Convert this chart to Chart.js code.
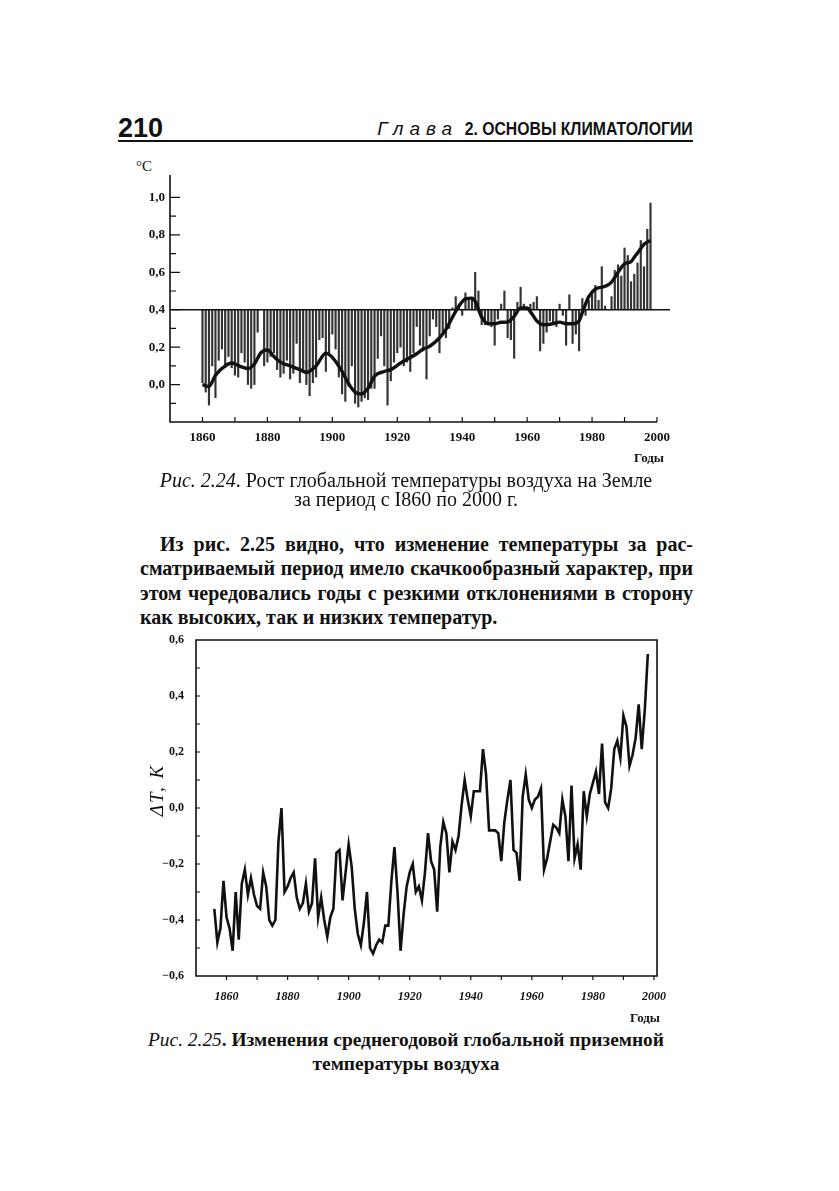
<!DOCTYPE html>
<html lang="ru">
<head>
<meta charset="utf-8">
<title>Рис. 2.24 и 2.25</title>
<script src="https://cdn.jsdelivr.net/npm/chart.js@4.4.1/dist/chart.umd.min.js"></script>
<style>
  html, body { margin: 0; padding: 0; background: #fff; }
  body { width: 839px; height: 1191px; position: relative; overflow: hidden; color: #111; font-family: "Liberation Serif", serif; }
  .abs { position: absolute; white-space: nowrap; }
  canvas { position: absolute; }
  .hdr-num { left: 118px; top: 113px; font: bold 27px "Liberation Sans", Arial, sans-serif; }
  .hdr-ttl { right: 146px; top: 118px; font: bold 19px "Liberation Sans", sans-serif; }
  .hdr-ttl i { font-weight: normal; letter-spacing: 6px; margin-right: 2px; }
  .hdr-ttl span { display: inline-block; transform: scaleX(0.83); transform-origin: right center; margin-left: -47px; }
  .rule { left: 118px; top: 140px; width: 575px; height: 2px; background: #111; }
  .cap { left: 0; width: 812px; text-align: center; font-size: 20px; line-height: 22px; }
  .cap i { font-style: italic; }
  .cap2 { font-size: 19.4px; font-weight: bold; }
  .para { left: 140px; width: 553px; font: bold 20px "Liberation Serif", serif; text-align: justify; text-align-last: justify; }
  .small { font: bold 13px "Liberation Serif", serif; }
</style>
</head>
<body>

<div class="abs hdr-num">210</div>
<div class="abs hdr-ttl"><i>Глава</i> <span>2. ОСНОВЫ КЛИМАТОЛОГИИ</span></div>
<div class="abs rule"></div>

<div class="abs" style="left:136px;top:158px;font-size:15px;">°C</div>
<canvas id="fig224" width="620" height="330" style="left:90px;top:150px;"></canvas>
<div class="abs small" style="left:634px;top:450px;">Годы</div>

<div class="abs cap" style="top:469px;"><i>Рис. 2.24</i>. Рост глобальной температуры воздуха на Земле</div>
<div class="abs cap" style="top:488px;">за период с I860 по 2000 г.</div>

<div class="abs para" style="top:533px;left:160px;width:533px;">Из рис. 2.25 видно, что изменение температуры за рас-</div>
<div class="abs para" style="top:557px;">сматриваемый период имело скачкообразный характер, при</div>
<div class="abs para" style="top:582px;">этом чередовались годы с резкими отклонениями в сторону</div>
<div class="abs para" style="top:606px;text-align-last:left;">как высоких, так и низких температур.</div>

<canvas id="fig225" width="570" height="400" style="left:140px;top:620px;"></canvas>
<div class="abs" style="left:117px;top:779px;width:80px;text-align:center;font-style:italic;font-size:19px;letter-spacing:2px;transform:rotate(-90deg);">ΔT, K</div>
<div class="abs small" style="left:630px;top:1010px;">Годы</div>

<div class="abs cap cap2" style="top:1029px;"><i style="font-weight:normal">Рис. 2.25</i>. Изменения среднегодовой глобальной приземной</div>
<div class="abs cap cap2" style="top:1053px;">температуры воздуха</div>

<script>
// --- Рис. 2.24: annual bars around the 0.4 line + smoothed curve (1860-1998)
const barStartYear = 1860;
const baseline224 = 0.4;
const barValues = [
  0.01, -0.04, -0.11, 0.10, -0.07, 0.13, 0.19, 0.09, 0.15, 0.09,
  0.05, 0.04, 0.17, 0.12, 0.00, -0.02, 0.00, 0.28, 0.40, 0.10,
  0.12, 0.15, 0.17, 0.08, 0.04, 0.06, 0.13, 0.03, 0.06, 0.22,
  0.01, 0.08, 0.00, -0.06, 0.01, 0.04, 0.24, 0.25, 0.07, 0.17,
  0.27, 0.19, 0.04, -0.05, -0.09, -0.01, 0.10, -0.10, -0.12, -0.09,
  -0.07, -0.08, -0.02, -0.02, 0.14, 0.26, 0.10, -0.11, 0.02, 0.12,
  0.17, 0.20, 0.10, 0.12, 0.07, 0.17, 0.31, 0.21, 0.18, 0.03,
  0.26, 0.35, 0.31, 0.17, 0.28, 0.25, 0.30, 0.41, 0.47, 0.43,
  0.37, 0.49, 0.46, 0.46, 0.60, 0.50, 0.32, 0.32, 0.32, 0.31,
  0.21, 0.35, 0.43, 0.50, 0.25, 0.24, 0.14, 0.44, 0.52, 0.43,
  0.40, 0.43, 0.44, 0.47, 0.18, 0.22, 0.28, 0.34, 0.33, 0.31,
  0.43, 0.37, 0.21, 0.48, 0.22, 0.27, 0.18, 0.46, 0.37, 0.45,
  0.49, 0.53, 0.45, 0.63, 0.42, 0.40, 0.47, 0.61, 0.64, 0.58,
  0.73, 0.69, 0.55, 0.59, 0.65, 0.77, 0.63, 0.83, 0.97
];
const smoothYears = [1860, 1862, 1864, 1867, 1869, 1872, 1874, 1876, 1878, 1880,
  1882, 1884, 1887, 1890, 1892, 1895, 1898, 1900, 1903, 1905,
  1907, 1909, 1911, 1913, 1916, 1918, 1921, 1923, 1926, 1928,
  1930, 1933, 1935, 1937, 1939, 1941, 1943, 1944, 1946, 1948,
  1950, 1952, 1954, 1956, 1958, 1960, 1961, 1963, 1965, 1968,
  1970, 1972, 1974, 1976, 1977, 1979, 1981, 1984, 1986, 1988,
  1990, 1992, 1993, 1995, 1996, 1998];
const smoothValues = [0.00, -0.01, 0.05, 0.10, 0.115, 0.095, 0.085, 0.11, 0.17, 0.185,
  0.15, 0.12, 0.10, 0.08, 0.065, 0.10, 0.168, 0.145, 0.07, 0.005,
  -0.04, -0.05, -0.02, 0.045, 0.07, 0.08, 0.115, 0.135, 0.165, 0.19,
  0.205, 0.25, 0.295, 0.36, 0.42, 0.458, 0.462, 0.445, 0.36, 0.325,
  0.325, 0.333, 0.334, 0.365, 0.41, 0.41, 0.39, 0.34, 0.32, 0.325,
  0.334, 0.325, 0.325, 0.34, 0.385, 0.47, 0.51, 0.525, 0.548, 0.60,
  0.645, 0.657, 0.68, 0.727, 0.75, 0.77];
const yTicks224 = [0.0, 0.2, 0.4, 0.6, 0.8, 1.0];
const xTickLabels = [1860, 1880, 1900, 1920, 1940, 1960, 1980, 2000];

// --- Рис. 2.25: annual global mean anomaly, 1856-1998
const lineStartYear = 1856;
const anomalyValues = [
  -0.36, -0.48, -0.43, -0.26,
  -0.39, -0.43, -0.51, -0.30, -0.47, -0.27, -0.22, -0.31, -0.25, -0.31,
  -0.35, -0.36, -0.23, -0.28, -0.40, -0.42, -0.40, -0.12, 0.00, -0.30,
  -0.28, -0.25, -0.23, -0.32, -0.36, -0.34, -0.27, -0.37, -0.34, -0.18,
  -0.39, -0.32, -0.40, -0.46, -0.39, -0.36, -0.16, -0.15, -0.33, -0.23,
  -0.13, -0.21, -0.36, -0.45, -0.49, -0.41, -0.30, -0.50, -0.52, -0.49,
  -0.47, -0.48, -0.42, -0.42, -0.26, -0.14, -0.30, -0.51, -0.38, -0.28,
  -0.23, -0.20, -0.30, -0.28, -0.33, -0.23, -0.09, -0.19, -0.22, -0.37,
  -0.14, -0.05, -0.09, -0.23, -0.12, -0.15, -0.10, 0.01, 0.10, 0.03,
  -0.03, 0.06, 0.06, 0.06, 0.21, 0.12, -0.08, -0.08, -0.08, -0.09,
  -0.19, -0.05, 0.03, 0.10, -0.15, -0.16, -0.26, 0.04, 0.12, 0.03,
  0.00, 0.03, 0.04, 0.07, -0.22, -0.18, -0.12, -0.06, -0.07, -0.09,
  0.03, -0.03, -0.19, 0.08, -0.18, -0.13, -0.22, 0.06, -0.03, 0.05,
  0.09, 0.13, 0.05, 0.23, 0.02, 0.00, 0.07, 0.21, 0.24, 0.18,
  0.33, 0.29, 0.15, 0.19, 0.25, 0.37, 0.21, 0.35, 0.55
];
const yTicks225 = [-0.6, -0.4, -0.2, 0.0, 0.2, 0.4, 0.6];

const serif = '"Liberation Serif", "Times New Roman", serif';
const ink = '#111';

function commaLabel(v) {
  const s = Math.abs(v).toFixed(1).replace('.', ',');
  return v < -0.001 ? '\u2212' + s : s;
}
function isIn(list, v) {
  return list.some(t => Math.abs(t - v) < 1e-6);
}

// axes drawn by hand: book style, ticks pointing into the plot
const bookAxes = {
  id: 'bookAxes',
  afterDatasetsDraw(chart, args, o) {
    const ctx = chart.ctx;
    const { left, right, top, bottom } = chart.chartArea;
    const xs = chart.scales.x, ys = chart.scales.y;
    ctx.save();
    ctx.strokeStyle = ink;
    ctx.lineWidth = o.axisWidth;
    ctx.beginPath();
    if (o.frame) {
      ctx.rect(left, top, right - left, bottom - top);
    } else {
      ctx.moveTo(left, top); ctx.lineTo(left, bottom); ctx.lineTo(right, bottom);
    }
    ctx.stroke();
    ctx.lineWidth = 1.2;
    ctx.beginPath();
    ys.ticks.forEach(t => {
      if (t.value < o.yFrom - 1e-6 || t.value > o.yTo + 1e-6) return;
      const py = ys.getPixelForValue(t.value);
      const len = Math.round(t.value * 10) % 2 === 0 ? o.yMajor : o.yMinor;
      ctx.moveTo(left, py); ctx.lineTo(left + len, py);
    });
    xs.ticks.forEach(t => {
      if (t.value < 1860) return;
      const px = xs.getPixelForValue(t.value);
      ctx.moveTo(px, bottom); ctx.lineTo(px, bottom + o.xLen);
    });
    ctx.stroke();
    ctx.restore();
  }
};

// Рис. 2.24
new Chart(document.getElementById('fig224'), {
  type: 'bar',
  data: {
    datasets: [
      {
        type: 'line',
        data: smoothYears.map((y, i) => ({ x: y, y: smoothValues[i] })),
        borderColor: ink,
        borderWidth: 3.4,
        pointRadius: 0,
        cubicInterpolationMode: 'monotone',
        order: 0
      },
      {
        type: 'line',
        data: [{ x: 1850, y: baseline224 }, { x: 2004, y: baseline224 }],
        borderColor: ink,
        borderWidth: 1.4,
        pointRadius: 0,
        clip: false,
        order: 1
      },
      {
        type: 'bar',
        data: barValues.map((v, i) => ({ x: barStartYear + i, y: [baseline224, v] })),
        backgroundColor: '#333',
        barThickness: 1.5,
        order: 2
      }
    ]
  },
  options: {
    responsive: false,
    animation: false,
    events: [],
    layout: { padding: { left: 0, right: 53, top: 25, bottom: 0 } },
    plugins: {
      legend: { display: false },
      tooltip: { enabled: false },
      bookAxes: { frame: false, axisWidth: 1.6, yFrom: -0.1, yTo: 1.0, yMajor: 10, yMinor: 6, xLen: -5 }
    },
    scales: {
      x: {
        type: 'linear',
        min: 1850,
        max: 2000,
        offset: false,
        grid: { display: false, drawTicks: false },
        border: { display: false },
        afterFit: s => { s.height = 58; },
        ticks: {
          stepSize: 10,
          includeBounds: false,
          autoSkip: false,
          maxRotation: 0,
          padding: 8,
          color: ink,
          font: { family: serif, weight: 'bold', size: 13 },
          callback: v => (isIn(xTickLabels, v) ? String(v) : '')
        }
      },
      y: {
        min: -0.2,
        max: 1.12,
        grid: { display: false, drawTicks: false },
        border: { display: false },
        afterFit: s => { s.width = 80; },
        ticks: {
          stepSize: 0.1,
          includeBounds: false,
          autoSkip: false,
          padding: 5,
          color: ink,
          font: { family: serif, weight: 'bold', size: 13 },
          callback: v => (isIn(yTicks224, v) ? commaLabel(v) : '')
        }
      }
    }
  },
  plugins: [bookAxes]
});

// Рис. 2.25
new Chart(document.getElementById('fig225'), {
  type: 'line',
  data: {
    datasets: [{
      data: anomalyValues.map((v, i) => ({ x: lineStartYear + i, y: v })),
      borderColor: ink,
      borderWidth: 2.6,
      pointRadius: 0,
      tension: 0
    }]
  },
  options: {
    responsive: false,
    animation: false,
    events: [],
    layout: { padding: { left: 0, right: 53, top: 20, bottom: 0 } },
    plugins: {
      legend: { display: false },
      tooltip: { enabled: false },
      bookAxes: { frame: true, axisWidth: 1.6, yFrom: -0.5, yTo: 0.5, yMajor: 4, yMinor: 4, xLen: 4 }
    },
    scales: {
      x: {
        type: 'linear',
        min: 1850,
        max: 2001,
        grid: { display: false, drawTicks: false },
        border: { display: false },
        afterFit: s => { s.height = 44; },
        ticks: {
          stepSize: 10,
          includeBounds: false,
          autoSkip: false,
          maxRotation: 0,
          padding: 14,
          color: ink,
          font: { family: serif, weight: 'bold', style: 'italic', size: 12 },
          callback: v => (isIn(xTickLabels, v) ? String(v) : '')
        }
      },
      y: {
        min: -0.6,
        max: 0.6,
        grid: { display: false, drawTicks: false },
        border: { display: false },
        afterFit: s => { s.width = 56; },
        ticks: {
          stepSize: 0.1,
          autoSkip: false,
          padding: 12,
          color: ink,
          font: { family: serif, weight: 'bold', size: 12 },
          callback: v => (isIn(yTicks225, v) ? commaLabel(v) : '')
        }
      }
    }
  },
  plugins: [bookAxes]
});
</script>
</body>
</html>
